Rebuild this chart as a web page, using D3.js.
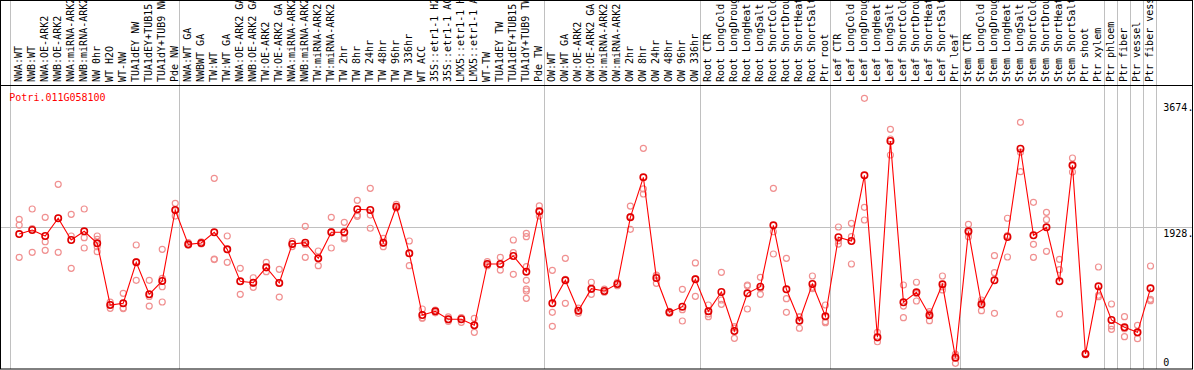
<!DOCTYPE html>
<html>
<head>
<meta charset="utf-8">
<script src="https://cdn.jsdelivr.net/npm/d3@7"></script>
<style>
    body { margin: 0; background: #fff; }
    svg { display: block; font-family: "DejaVu Sans Mono", monospace; font-size: 10px; }
</style>
</head>
<body>
<div id="chart"></div>
<script>
    var w = 1194;
    var h = 370;

    var geneName = "Potri.011G058100";

    var labels = [
        "NWA:WT", "NWB:WT", "NWA:OE-ARK2", "NWB:OE-ARK2", "NWA:miRNA-ARK2", "NWB:miRNA-ARK2",
        "NW 0hr", "WT H2O", "WT-NW", "TUA1dEY NW", "TUA1dEY+TUB15 NW", "TUA1dY+TUB9 NW", "Pde NW",
        "NWA:WT GA", "NWBWT GA", "TW:WT", "TW:WT GA", "NWA:OE-ARK2 GA", "NWB:OE-ARK2 GA",
        "TW:OE-ARK2", "TW:OE-ARK2 GA", "NWA:miRNA-ARK2 GA", "NWB:miRNA-ARK2 GA", "TW:miRNA-ARK2",
        "TW:miRNA-ARK2 GA", "TW 2hr", "TW 8hr", "TW 24hr", "TW 48hr", "TW 96hr", "TW 336hr", "WT ACC",
        "35S::etr1-1 H2O", "35S::etr1-1 ACC", "LMX5::etr1-1 H2O", "LMX5::etr1-1 ACC", "WT-TW",
        "TUA1dEY TW", "TUA1dEY+TUB15 TW", "TUA1dY+TUB9 TW", "Pde TW",
        "OW:WT", "OW:WT GA", "OW:OE-ARK2", "OW:OE-ARK2 GA", "OW:miRNA-ARK2", "OW:miRNA-ARK2 GA",
        "OW 2hr", "OW 8hr", "OW 24hr", "OW 48hr", "OW 96hr", "OW 336hr",
        "Root CTR", "Root LongCold", "Root LongDrought", "Root LongHeat", "Root LongSalt",
        "Root ShortCold", "Root ShortDrought", "Root ShortHeat", "Root ShortSalt", "Ptr root",
        "Leaf CTR", "Leaf LongCold", "Leaf LongDrought", "Leaf LongHeat", "Leaf LongSalt",
        "Leaf ShortCold", "Leaf ShortDrought", "Leaf ShortHeat", "Leaf ShortSalt", "Ptr leaf",
        "Stem CTR", "Stem LongCold", "Stem LongDrought", "Stem LongHeat", "Stem LongSalt",
        "Stem ShortCold", "Stem ShortDrought", "Stem ShortHeat", "Stem ShortSalt", "Ptr shoot",
        "Ptr xylem", "Ptr phloem", "Ptr fiber", "Ptr vessel", "Ptr fiber vessel"
    ];

    // column index where each gray separator sits
    var groupBreaks = [0, 13, 41, 53, 63, 73, 84, 85, 86, 87, 88];

    var means = [
        1840, 1896, 1813, 2059, 1757, 1878, 1711, 854, 878, 1447, 1003, 1188, 2174,
        1697, 1715, 1864, 1628, 1183, 1164, 1378, 1160, 1702, 1720, 1503, 1864, 1864,
        2184, 2174, 1720, 2220, 1572, 715, 767, 656, 656, 572, 1424, 1424, 1535, 1317, 2156,
        878, 1197, 775, 1081, 1049, 1146, 2072, 2628, 1229, 753, 831, 1211,
        767, 1035, 493, 1017, 1108, 1961, 1072, 636, 1146, 697,
        1795, 1743, 2656, 406, 3132, 892, 1031, 711, 1142, 122,
        1878, 864, 1197, 1799, 3025, 1822, 1933, 1183, 2795, 174, 1114,
        646, 544, 475, 1086
    ];

    var reps = [
        [2045, 1965, 1517], [2188, 1914, 1586], [2072, 1733, 1614], [2531, 2060, 1586],
        [2114, 1813, 1364], [2188, 1789, 1646], [1813, 1767, 1664, 1595], [895, 860, 808],
        [1017, 812, 805], [1688, 1456, 1197], [1197, 972, 840], [1628, 1225, 1108, 896],
        [2267, 2165, 2090],
        [1720, 1688, 1683], [1733, 1710, 1702], [2614, 1493, 1485], [1813, 1624, 1447],
        [1364, 1182, 1003], [1233, 1159, 1100], [1447, 1370, 1317], [1350, 1165, 965],
        [1740, 1700, 1666], [1947, 1696, 1517], [1604, 1505, 1400], [2072, 1874, 1646],
        [2003, 1789, 1771], [2308, 2104, 2086], [2475, 2104, 1920], [1781, 1715, 1664],
        [2253, 2205, 2202], [1743, 1573, 1400], [799, 676, 670], [785, 770, 746],
        [690, 650, 628], [680, 674, 614], [669, 572, 475], [1456, 1416, 1400],
        [1517, 1415, 1340], [1757, 1581, 1281], [1850, 1803, 1386, 1197, 1076, 1049, 947],
        [2230, 2150, 2090],
        [1336, 753, 558], [1503, 1210, 878], [810, 775, 739], [1170, 1070, 1003],
        [1076, 1036, 1035], [1170, 1146, 1122], [2229, 2081, 1906], [3031, 2466, 2396],
        [1271, 1260, 1156], [767, 753, 739], [1072, 789, 632], [1438, 1220, 975],
        [854, 729, 692], [1308, 924, 864], [553, 534, 392], [1132, 1120, 799],
        [1239, 1082, 1003], [2475, 1872, 1563], [1503, 942, 753], [692, 685, 531],
        [1257, 1100, 1081], [854, 622, 608],
        [1938, 1747, 1700], [1989, 1803, 1424], [3725, 2211, 2035], [475, 399, 344],
        [3295, 3160, 2938], [1132, 840, 678], [1170, 1013, 910], [761, 736, 636],
        [1257, 1106, 1063], [172, 150, 44],
        [1975, 1856, 1803], [924, 893, 775], [1539, 1303, 739], [2059, 1817, 1521],
        [3392, 2977, 2706], [2281, 1697, 1517], [2142, 2039, 1600], [1489, 1345, 729],
        [2896, 2787, 2702], [183, 175, 164], [1382, 990, 970],
        [868, 563, 517], [692, 526, 414], [572, 467, 386], [1396, 933, 914]
    ];

    var yTicks = [3674, 1928, 0];
    var yTickLabels = ["3674.", "1928.", "0"];
    var refLine = 1928;

    var idx = d3.range(labels.length);

    // columns (separators, labels) and point positions
    var xBand = d3.scaleBand().domain(d3.range(labels.length + 1)).range([10, 1155.6 + 13.018]).paddingInner(0);
    var xCol = function (k) { return 10 + k * xBand.step(); };
    var xScale = d3.scalePoint().domain(idx).range([19.2, 1150.5]);
    var yScale = d3.scaleLinear().domain([0, 3674]).range([366.5, 102]);

    var svg = d3.select("#chart")
        .append("svg")
        .attr("width", w)
        .attr("height", h);

    var crisp = function (v) { return Math.round(v) + 0.5; };

    // gray column separators
    svg.selectAll("line.sep")
        .data(groupBreaks)
        .enter()
        .append("line")
        .attr("class", "sep")
        .attr("x1", function (k) { return crisp(xCol(k)); })
        .attr("x2", function (k) { return crisp(xCol(k)); })
        .attr("y1", 0)
        .attr("y2", 369)
        .attr("stroke", "#c0c0c0")
        .attr("stroke-width", 1);

    // reference line
    svg.append("line")
        .attr("x1", 1)
        .attr("x2", 1192)
        .attr("y1", crisp(yScale(refLine) - 0.5))
        .attr("y2", crisp(yScale(refLine) - 0.5))
        .attr("stroke", "#c0c0c0")
        .attr("stroke-width", 1);

    // frame
    var frame = svg.append("g").attr("stroke", "#000").attr("stroke-width", 1).attr("fill", "none");
    frame.append("rect").attr("x", 0.5).attr("y", 0.5).attr("width", 1192).attr("height", 368.5);
    frame.append("line").attr("x1", 0).attr("x2", 1192.5).attr("y1", 85.5).attr("y2", 85.5);

    // rotated column labels
    svg.append("g")
        .selectAll("text")
        .data(idx)
        .enter()
        .append("text")
        .attr("transform", function (i) {
            return "translate(" + (xScale(i) + 2.3) + ",82) rotate(-90)";
        })
        .attr("fill", "#000")
        .text(function (i) { return labels[i]; });

    // gene name
    svg.append("text")
        .attr("x", 9.3)
        .attr("y", 100.7)
        .attr("fill", "#ff0000")
        .text(geneName);

    // right axis labels
    svg.selectAll("text.ytick")
        .data(yTicks)
        .enter()
        .append("text")
        .attr("class", "ytick")
        .attr("x", 1163.3)
        .attr("y", function (d) { return d === 0 ? yScale(d) - 0.5 : yScale(d) + 9; })
        .attr("fill", "#000")
        .text(function (d, i) { return yTickLabels[i]; });

    // replicate points
    var repPts = [];
    reps.forEach(function (r, i) {
        r.forEach(function (v) { repPts.push([i, v]); });
    });

    svg.append("g")
        .selectAll("circle")
        .data(repPts)
        .enter()
        .append("circle")
        .attr("cx", function (d) { return xScale(d[0]); })
        .attr("cy", function (d) { return yScale(d[1]); })
        .attr("r", 3)
        .attr("fill", "none")
        .attr("stroke", "#f09090")
        .attr("stroke-width", 1.2);

    // mean line
    var line = d3.line()
        .x(function (i) { return xScale(i); })
        .y(function (i) { return yScale(means[i]); });

    svg.append("path")
        .datum(idx)
        .attr("d", line)
        .attr("fill", "none")
        .attr("stroke", "#ff0000")
        .attr("stroke-width", 1.1);

    svg.append("g")
        .selectAll("circle")
        .data(idx)
        .enter()
        .append("circle")
        .attr("cx", function (i) { return xScale(i); })
        .attr("cy", function (i) { return yScale(means[i]); })
        .attr("r", 3.2)
        .attr("fill", "none")
        .attr("stroke", "#e00000")
        .attr("stroke-width", 1.6);
</script>
</body>
</html>
